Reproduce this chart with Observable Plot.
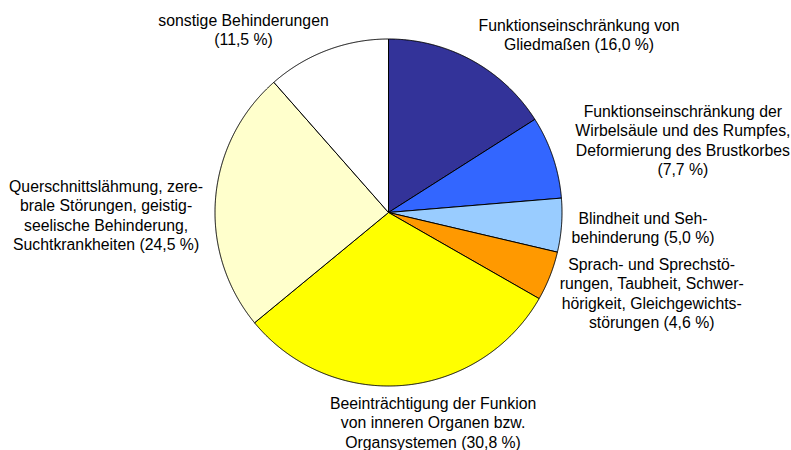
<!DOCTYPE html>
<html>
<head>
<meta charset="utf-8">
<script src="https://cdn.jsdelivr.net/npm/d3@7"></script>
<script src="https://cdn.jsdelivr.net/npm/@observablehq/plot@0.6"></script>
<style>
  html, body { margin: 0; padding: 0; background: #ffffff; }
  #chart { width: 791px; height: 450px; }
</style>
</head>
<body>
<div id="chart"></div>
<script>
// ---- data ----
const categories = [
  "Funktionseinschränkung von Gliedmaßen",
  "Funktionseinschränkung der Wirbelsäule und des Rumpfes, Deformierung des Brustkorbes",
  "Blindheit und Sehbehinderung",
  "Sprach- und Sprechstörungen, Taubheit, Schwerhörigkeit, Gleichgewichtsstörungen",
  "Beeinträchtigung der Funkion von inneren Organen bzw. Organsystemen",
  "Querschnittslähmung, zerebrale Störungen, geistig-seelische Behinderung, Suchtkrankheiten",
  "sonstige Behinderungen"
];
const values = [16.0, 7.7, 5.0, 4.6, 30.8, 24.5, 11.5];
const colors = ["#333399", "#3366FF", "#99CCFF", "#FF9900", "#FFFF00", "#FFFFCC", "#FFFFFF"];
const labelPrefix = [
  "Funktionseinschränkung von\nGliedmaßen ",
  "Funktionseinschränkung der\nWirbelsäule und des Rumpfes,\nDeformierung des Brustkorbes\n",
  "Blindheit und Seh-\nbehinderung ",
  "Sprach- und Sprechstö-\nrungen, Taubheit, Schwer-\nhörigkeit, Gleichgewichts-\nstörungen ",
  "Beeinträchtigung der Funkion\nvon inneren Organen bzw.\nOrgansystemen ",
  "Querschnittslähmung, zere-\nbrale Störungen, geistig-\nseelische Behinderung,\nSuchtkrankheiten ",
  "sonstige Behinderungen\n"
];

// ---- layout ----
const W = 791, H = 450;
const R = 173.5, CX = 388, CY = 212;       // pie centre and radius (px)
const labelRadius = 184;                    // px from centre along mid-angle
const labelNudge = [[102,-17],[120,-14],[71,1],[92,13],[29,26],[-99,17],[-80,-11]];

const total = d3.sum(values);
const fmt = v => "(" + v.toFixed(1).replace(".", ",") + " %)";

// slice outlines (unit circle coordinates, angle clockwise from 12 o'clock)
const slices = [];
const labels = [];
let acc = 0;
values.forEach((v, i) => {
  const a0 = acc / total * 2 * Math.PI;
  acc += v;
  const a1 = acc / total * 2 * Math.PI;
  const n = Math.max(2, Math.ceil((a1 - a0) / (Math.PI / 720)));
  slices.push({cat: categories[i], color: colors[i], x: 0, y: 0});
  for (let k = 0; k <= n; k++) {
    const a = a0 + (a1 - a0) * k / n;
    slices.push({cat: categories[i], color: colors[i], x: Math.sin(a), y: Math.cos(a)});
  }
  slices.push({cat: categories[i], color: colors[i], x: 0, y: 0});
  const am = (a0 + a1) / 2;
  labels.push({
    text: labelPrefix[i] + fmt(v),
    x: (labelRadius * Math.sin(am) + labelNudge[i][0]) / R,
    y: (labelRadius * Math.cos(am) - labelNudge[i][1]) / R
  });
});

const chart = Plot.plot({
  width: W,
  height: H,
  margin: 0,
  x: {domain: [-CX / R, (W - CX) / R], axis: null},
  y: {domain: [-(H - CY) / R, CY / R], axis: null},
  color: {type: "identity"},
  style: {background: "#ffffff", fontFamily: "'Liberation Sans', Arial, sans-serif"},
  marks: [
    Plot.line(slices, {
      x: "x", y: "y", z: "cat", fill: "color",
      stroke: "#000000", strokeWidth: 1, strokeLinejoin: "round", curve: "linear"
    }),
    Plot.text(labels, {
      x: "x", y: "y", text: "text",
      textAnchor: "middle", lineAnchor: "middle",
      fontSize: 15.8, lineHeight: 1.234, fill: "#000000"
    })
  ]
});
document.getElementById("chart").appendChild(chart);
</script>
</body>
</html>
